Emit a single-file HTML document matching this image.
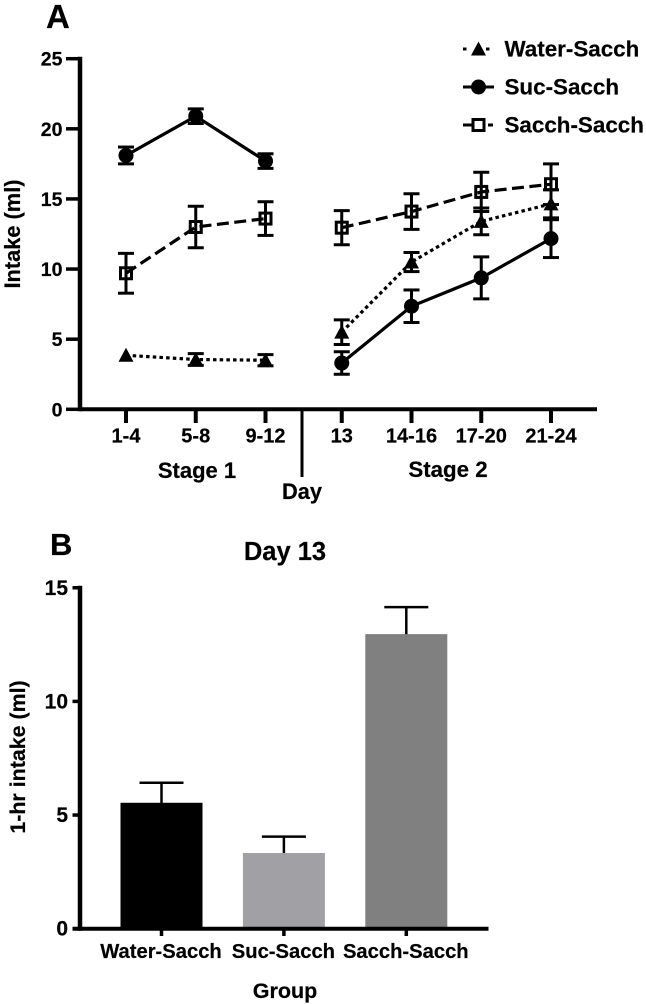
<!DOCTYPE html>
<html lang="en">
<head>
<meta charset="utf-8">
<title>Intake charts</title>
<style>
html,body{margin:0;padding:0;background:#fff;width:646px;height:1004px;overflow:hidden}
svg{display:block;filter:blur(0.3px)}
text{font-family:"Liberation Sans",sans-serif;font-weight:bold;fill:#000;stroke:#000;stroke-width:0.2px}
</style>
</head>
<body>
<svg id="fig" xmlns="http://www.w3.org/2000/svg" width="646" height="1004" viewBox="0 0 646 1004">
  <text x="46" y="28" font-size="33">A</text>
  <text x="50" y="555" font-size="31">B</text>
  <text transform="translate(20,234) rotate(-90)" text-anchor="middle" font-size="21.8">Intake (ml)</text>
  <text x="197" y="478" text-anchor="middle" font-size="22">Stage 1</text>
  <text x="448" y="477" text-anchor="middle" font-size="22.3">Stage 2</text>
  <text x="302" y="499" text-anchor="middle" font-size="21.8">Day</text>
  <text x="285" y="560" text-anchor="middle" font-size="25.5">Day 13</text>
  <text transform="translate(25,757) rotate(-90)" text-anchor="middle" font-size="21.4">1-hr intake (ml)</text>
  <text x="285" y="998" text-anchor="middle" font-size="21.5">Group</text>
  <g id="chartA"></g>
  <g id="legend"></g>
  <g id="chartB"></g>
</svg>
<script>
// Panel A data
const dayLabels = ['1-4', '5-8', '9-12', '13', '14-16', '17-20', '21-24'];
const yTicksA = [0, 5, 10, 15, 20, 25];
const waterMeans = [3.85, 3.55, 3.5, 5.5, 10.5, 13.4, 14.65];
const waterErrors = [0, 0.42, 0.4, 0.88, 0.68, 0.95, 1.0];
const sucMeans = [18.1, 20.9, 17.7, 3.3, 7.35, 9.37, 12.17];
const sucErrors = [0.6, 0.52, 0.52, 0.8, 1.16, 1.5, 1.35];
const sacchMeans = [9.7, 13.0, 13.6, 12.95, 14.1, 15.5, 16.05];
const sacchErrors = [1.42, 1.48, 1.2, 1.22, 1.27, 1.4, 1.45];
const seriesNames = ['Water-Sacch', 'Suc-Sacch', 'Sacch-Sacch'];

// Panel B data
const groupLabels = ['Water-Sacch', 'Suc-Sacch', 'Sacch-Sacch'];
const groupMeans = [5.54, 3.33, 12.96];
const groupErrors = [0.88, 0.72, 1.19];
const groupColors = ['#000000', '#a1a0a4', '#808080'];
const yTicksB = [0, 5, 10, 15];

const NS = 'http://www.w3.org/2000/svg';
function make(parent, tag, props, content) {
  const el = document.createElementNS(NS, tag);
  for (const k in props) el.setAttribute(k, props[k]);
  if (content !== undefined) el.textContent = content;
  parent.appendChild(el);
  return el;
}
const xA = i => 126 + i * 69.75 + (i >= 3 ? 6.5 : 0);
const yA = v => 409.3 - v * 14.024;
const xB = i => 161.5 + i * 122.4;
const yB = v => 928.7 - v * 22.73;

const chartA = document.getElementById('chartA');
const legend = document.getElementById('legend');
const chartB = document.getElementById('chartB');

function drawMarker(g, kind, x, y) {
  if (kind === 0) {
    const t = make(g, 'polygon', {points: (x - 7.5) + ',' + (y + 6.5) + ' ' + (x + 7.5) + ',' + (y + 6.5) + ' ' + x + ',' + (y - 7.5), fill: '#000'});
    
    
  } else if (kind === 1) {
    const c = make(g, 'circle', {cx: x, cy: y, r: 7.5, fill: '#000'});
    
    
  } else {
    const r = make(g, 'rect', {x: x - 5.5, y: y - 5.5, width: 11, height: 11, fill: 'none', stroke: '#000', 'stroke-width': 3});
    
    
  }
}

// Panel A axes
const yAxisA = make(chartA, 'line', {x1: 80, x2: 80, y1: yA(25) - 2, y2: yA(0) + 2, stroke: '#000', 'stroke-width': 4.5});


const xAxisA = make(chartA, 'line', {x1: 80, x2: 597, y1: yA(0), y2: yA(0), stroke: '#000', 'stroke-width': 4});


const breakA = make(chartA, 'line', {x1: 302, x2: 302, y1: yA(0), y2: 477, stroke: '#000', 'stroke-width': 3});



yTicksA.forEach(v => {
  const tick = make(chartA, 'line', {x1: 66, x2: 80, y1: yA(v), y2: yA(v), stroke: '#000', 'stroke-width': 3.5});
  
  
  const label = make(chartA, 'text', {x: 62.5, y: yA(v) + 7, 'text-anchor': 'end', 'font-size': 19.5}, String(v));
  
  
});
dayLabels.forEach((d, i) => {
  const tick = make(chartA, 'line', {x1: xA(i), x2: xA(i), y1: yA(0), y2: 423, stroke: '#000', 'stroke-width': 4});
  
  
  const label = make(chartA, 'text', {x: xA(i), y: 442.5, 'text-anchor': 'middle', 'font-size': 20}, d);
  
  
});

// Panel A series
const allMeans = [waterMeans, sucMeans, sacchMeans];
const allErrors = [waterErrors, sucErrors, sacchErrors];
const dashes = ['3.5 3.2', 'none', '12 5.5'];
allMeans.forEach((means, s) => {
  const g = make(chartA, 'g', {});
  
  
  [[0, 3], [3, 7]].forEach(range => {
    const pts = [];
    for (let i = range[0]; i < range[1]; i++) pts.push(xA(i) + ',' + yA(means[i]));
    const line = make(g, 'polyline', {points: pts.join(' '), fill: 'none', stroke: '#000', 'stroke-width': 3.2, 'stroke-dasharray': dashes[s]});
    
    
  });
  means.forEach((m, i) => {
    const e = allErrors[s][i];
    const x = xA(i);
    if (e > 0) {
      const up = yA(m + e);
      const lo = yA(m - e);
      const stem = make(g, 'line', {x1: x, x2: x, y1: up, y2: lo, stroke: '#000', 'stroke-width': 3});
      
      
      const capTop = make(g, 'line', {x1: x - 8, x2: x + 8, y1: up, y2: up, stroke: '#000', 'stroke-width': 3});
      
      
      const capBot = make(g, 'line', {x1: x - 8, x2: x + 8, y1: lo, y2: lo, stroke: '#000', 'stroke-width': 3});
      
      
    }
    drawMarker(g, s, x, yA(m));
  });
});

// Legend
const legendRow = s => 49 + s * 38;
const legendDashes = ['3.5 19.5 3.5 10', 'none', '9 16 5 10'];
seriesNames.forEach((name, s) => {
  const y = legendRow(s);
  const sample = make(legend, 'line', {x1: 463, x2: 494, y1: y, y2: y, stroke: '#000', 'stroke-width': 3, 'stroke-dasharray': legendDashes[s]});
  
  
  drawMarker(legend, s, 478.5, y);
  const label = make(legend, 'text', {x: 504.5, y: y + 7.7, 'font-size': 22.4}, name);
  
  
});

// Panel B bars
groupMeans.forEach((m, i) => {
  const x = xB(i);
  const top = yB(m + groupErrors[i]);
  const stem = make(chartB, 'line', {x1: x, x2: x, y1: top, y2: yB(m) + 1, stroke: '#000', 'stroke-width': 2.5});
  
  
  const cap = make(chartB, 'line', {x1: x - 22, x2: x + 22, y1: top, y2: top, stroke: '#000', 'stroke-width': 2.5});
  
  
  const bar = make(chartB, 'rect', {x: x - 41, y: yB(m), width: 82, height: yB(0) - yB(m), fill: groupColors[i]});
  
  
  const tick = make(chartB, 'line', {x1: x, x2: x, y1: yB(0), y2: 936, stroke: '#000', 'stroke-width': 3.5});
  
  
  const label = make(chartB, 'text', {x: x - 0.5, y: 958, 'text-anchor': 'middle', 'font-size': 20.2}, groupLabels[i]);
  
  
});
const yAxisB = make(chartB, 'line', {x1: 80, x2: 80, y1: yB(15) - 2, y2: yB(0) + 2, stroke: '#000', 'stroke-width': 4.5});


const xAxisB = make(chartB, 'line', {x1: 72.5, x2: 488.5, y1: yB(0), y2: yB(0), stroke: '#000', 'stroke-width': 4});


yTicksB.forEach(v => {
  const tick = make(chartB, 'line', {x1: 72.5, x2: 80, y1: yB(v), y2: yB(v), stroke: '#000', 'stroke-width': 3.5});
  
  
  const label = make(chartB, 'text', {x: 68, y: yB(v) + 7, 'text-anchor': 'end', 'font-size': 21}, String(v));
  
  
});
</script>
</body>
</html>
